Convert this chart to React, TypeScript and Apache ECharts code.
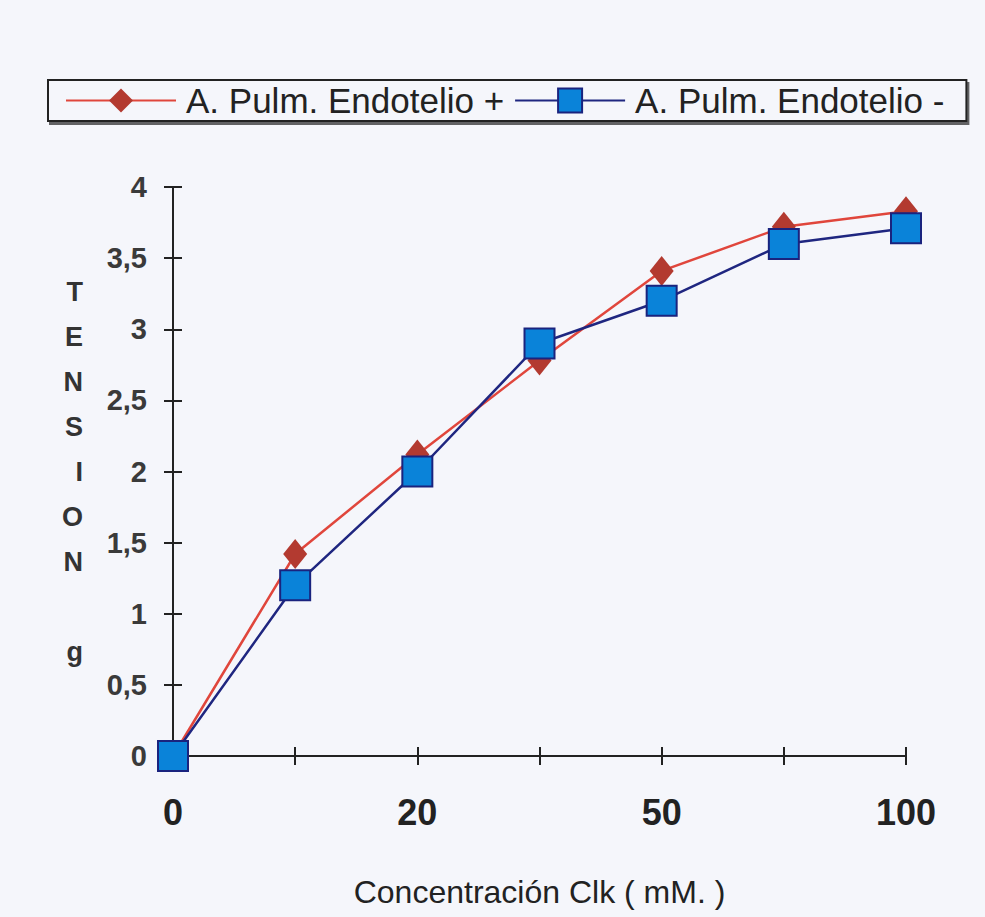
import React, { useEffect, useRef } from "react";
import * as echarts from "echarts";

const categories = ["0", "", "20", "", "50", "", "100"];
const endotelioPlus = [0, 1.42, 2.12, 2.78, 3.41, 3.72, 3.83];
const endotelioMinus = [0, 1.2, 2.0, 2.9, 3.2, 3.6, 3.71];
const seriesNames = ["A. Pulm. Endotelio +", "A. Pulm. Endotelio -"];
const yAxisTitle = "T\nE\nN\nS\nI\nO\nN\n\ng";
const xAxisTitle = "Concentración Clk ( mM. )";

export default function App() {
  const ref = useRef<HTMLDivElement>(null);
  useEffect(() => {
    document.body.style.margin = "0";
    document.body.style.background = "#f5f6fb";
    const chart = echarts.init(ref.current!, null, { renderer: "svg" });
    const font = "Liberation Sans, Arial, sans-serif";
    chart.setOption({
      animation: false,
      backgroundColor: "#f5f6fb",
      textStyle: { fontFamily: font },
      legend: {
        left: 48,
        top: 80,
        padding: [3, 22, 3, 17],
        itemGap: 10,
        itemWidth: 110,
        itemHeight: 30,
        borderColor: "#222",
        borderWidth: 2,
        borderRadius: 0,
        backgroundColor: "#f5f6fb",
        shadowColor: "rgba(0,0,0,0.6)",
        shadowOffsetX: 2,
        shadowOffsetY: 3,
        shadowBlur: 1,
        textStyle: { fontSize: 35, color: "#222", fontFamily: font, padding: [0, 0, 0, 5] },
        data: seriesNames,
      },
      grid: { left: 173, right: 79, top: 187, bottom: 161, containLabel: false },
      xAxis: [
        {
          type: "category",
          data: categories,
          boundaryGap: false,
          name: xAxisTitle,
          nameLocation: "middle",
          nameGap: 120,
          nameTextStyle: { fontSize: 32, color: "#222", fontFamily: font },
          axisLine: { lineStyle: { color: "#222", width: 2 } },
          axisTick: { show: true, interval: 0, length: 9, lineStyle: { color: "#222", width: 2 } },
          axisLabel: { interval: 0, margin: 38, fontSize: 36, fontWeight: "bold", color: "#222" },
          splitLine: { show: false },
        },
        {
          type: "category",
          data: categories,
          boundaryGap: false,
          position: "bottom",
          axisLine: { show: false },
          axisTick: { show: true, inside: true, interval: 0, length: 9, lineStyle: { color: "#222", width: 2 } },
          axisLabel: { show: false },
          splitLine: { show: false },
        },
      ],
      yAxis: [
        {
          type: "value",
          min: 0,
          max: 4,
          interval: 0.5,
          name: yAxisTitle,
          nameLocation: "middle",
          nameRotate: 0,
          nameGap: 90,
          nameTextStyle: { fontSize: 27, fontWeight: "bold", color: "#333", lineHeight: 45, fontFamily: font },
          axisLine: { show: true, lineStyle: { color: "#222", width: 2 } },
          axisTick: { show: true, length: 9, lineStyle: { color: "#222", width: 2 } },
          axisLabel: {
            fontSize: 29,
            fontWeight: "bold",
            color: "#3a3a3a",
            margin: 26,
            formatter: (v: number) => String(v).replace(".", ","),
          },
          splitLine: { show: false },
        },
        {
          type: "value",
          min: 0,
          max: 4,
          interval: 0.5,
          position: "left",
          axisLine: { show: false },
          axisTick: { show: true, inside: true, length: 9, lineStyle: { color: "#222", width: 2 } },
          axisLabel: { show: false },
          splitLine: { show: false },
        },
      ],
      series: [
        {
          name: seriesNames[0],
          type: "line",
          data: endotelioPlus,
          symbol: "diamond",
          symbolSize: [24, 30],
          lineStyle: { color: "#e0463c", width: 2.5 },
          itemStyle: { color: "#b33a30" },
          z: 2,
        },
        {
          name: seriesNames[1],
          type: "line",
          data: endotelioMinus,
          symbol: "rect",
          symbolSize: 30,
          lineStyle: { color: "#1f2680", width: 2.5 },
          itemStyle: { color: "#0a83d9", borderColor: "#1a237e", borderWidth: 2 },
          z: 3,
        },
      ],
    });
    return () => chart.dispose();
  }, []);
  return <div ref={ref} style={{ width: 985, height: 917 }} />;
}
